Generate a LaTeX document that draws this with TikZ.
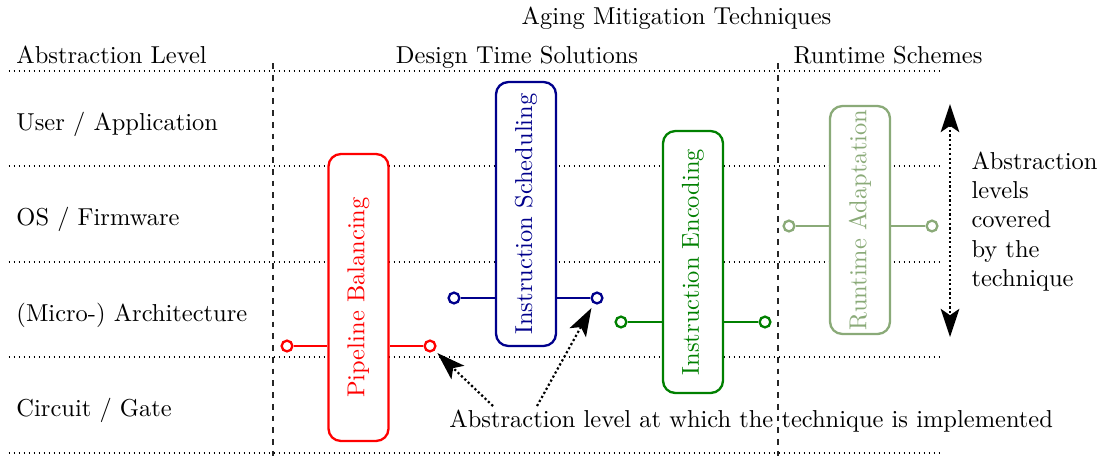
\documentclass[tikz,border=0pt]{standalone}
\usetikzlibrary{arrows.meta}
\definecolor{pbred}{RGB}{255,0,0}
\definecolor{isblue}{RGB}{0,0,140}
\definecolor{iegreen}{RGB}{0,128,0}
\definecolor{rasage}{RGB}{138,170,120}
\begin{document}
\begin{tikzpicture}[x=0.4085pt,y=-0.4085pt,
  level/.style={line width=0.7pt, dash pattern=on 0.7pt off 1.3425pt},
  split/.style={black!85, dash pattern=on 2.4pt off 2.4pt, line width=0.45pt},
  tech/.style={draw, line width=0.95pt, rounded corners=5pt, fill=white,
    minimum width=24.5pt, inner sep=0pt},
  pin/.style={draw, line width=0.95pt, circle, fill=white, inner sep=0pt, minimum size=4.4pt},
  stub/.style={line width=0.95pt},
  hint/.style={line width=0.9pt, dash pattern=on 0.9pt off 1pt},
  txt/.style={inner sep=0pt}]
\useasboundingbox (0,0) rectangle (1098,456);

% headings
\node[txt, anchor=base] (title) at (676.5,24) {Aging Mitigation Techniques};
\node[txt, anchor=base west] (abs) at (16,63) {Abstraction Level};
\node[txt, anchor=base] (dts) at (517,63) {Design Time Solutions};
\node[txt, anchor=base] (rts) at (888,63) {Runtime Schemes};

% abstraction levels
\node[txt, anchor=base west] (l1) at (16,130) {User / Application};
\node[txt, anchor=base west] (l2) at (16,225.5) {OS / Firmware};
\node[txt, anchor=base west] (l3) at (16,321) {(Micro-) Architecture};
\node[txt, anchor=base west] (l4) at (16,416.5) {Circuit / Gate};

% level separators
\foreach \yy in {71,166,262,357,453}
  \draw[level] (8.5,\yy) -- (940,\yy);
% column separators
\draw[split] (273,63) -- (273,456);
\draw[split] (778,63) -- (778,456);

% Pipeline Balancing
\node[tech, draw=pbred, text=pbred, minimum height=117.2pt] (pb) at (358.5,297.5)
  {\rotatebox{90}{Pipeline Balancing}};
\node[pin, draw=pbred] (pbL) at (287,346) {};
\node[pin, draw=pbred] (pbR) at (430,346) {};
\draw[stub, pbred] (pbL) -- (pbL -| pb.west);
\draw[stub, pbred] (pbR) -- (pbR -| pb.east);

% Instruction Scheduling
\node[tech, draw=isblue, text=isblue, minimum height=107.8pt] (is) at (526,214)
  {\rotatebox{90}{Instruction Scheduling}};
\node[pin, draw=isblue] (isL) at (454,298) {};
\node[pin, draw=isblue] (isR) at (597,298) {};
\draw[stub, isblue] (isL) -- (isL -| is.west);
\draw[stub, isblue] (isR) -- (isR -| is.east);

% Instruction Encoding
\node[tech, draw=iegreen, text=iegreen, minimum height=107pt] (ie) at (693,262)
  {\rotatebox{90}{Instruction Encoding}};
\node[pin, draw=iegreen] (ieL) at (621,322) {};
\node[pin, draw=iegreen] (ieR) at (765,322) {};
\draw[stub, iegreen] (ieL) -- (ieL -| ie.west);
\draw[stub, iegreen] (ieR) -- (ieR -| ie.east);

% Runtime Adaptation
\node[tech, draw=rasage, text=rasage, minimum height=93.1pt] (ra) at (860,220)
  {\rotatebox{90}{Runtime Adaptation}};
\node[pin, draw=rasage] (raL) at (789,226) {};
\node[pin, draw=rasage] (raR) at (932,226) {};
\draw[stub, rasage] (raL) -- (raL -| ra.west);
\draw[stub, rasage] (raR) -- (raR -| ra.east);

% range of covered levels
\coordinate (covTop) at (950,104);
\coordinate (covBot) at (950,337);
\draw[hint, {Stealth[length=11.5pt,width=7.6pt,inset=2.6pt]}-{Stealth[length=11.5pt,width=7.6pt,inset=2.6pt]}]
  (covTop) -- (covBot);
\node[txt, anchor=north west, align=left] (cov) at (971,151)
  {Abstraction\\levels\\covered\\by the\\technique};

% implementation level note
\node[txt, anchor=base west] (impl) at (449,427)
  {Abstraction level at which the technique is implemented};
\coordinate (h1) at (493,406);
\coordinate (h2) at (537,406);
\draw[hint, -{Stealth[length=11.5pt,width=7.6pt,inset=2.6pt]}, shorten >=1.5pt] (h1) -- (pbR);
\draw[hint, -{Stealth[length=11.5pt,width=7.6pt,inset=2.6pt]}, shorten >=2pt] (h2) -- (isR);
\end{tikzpicture}
\end{document}
